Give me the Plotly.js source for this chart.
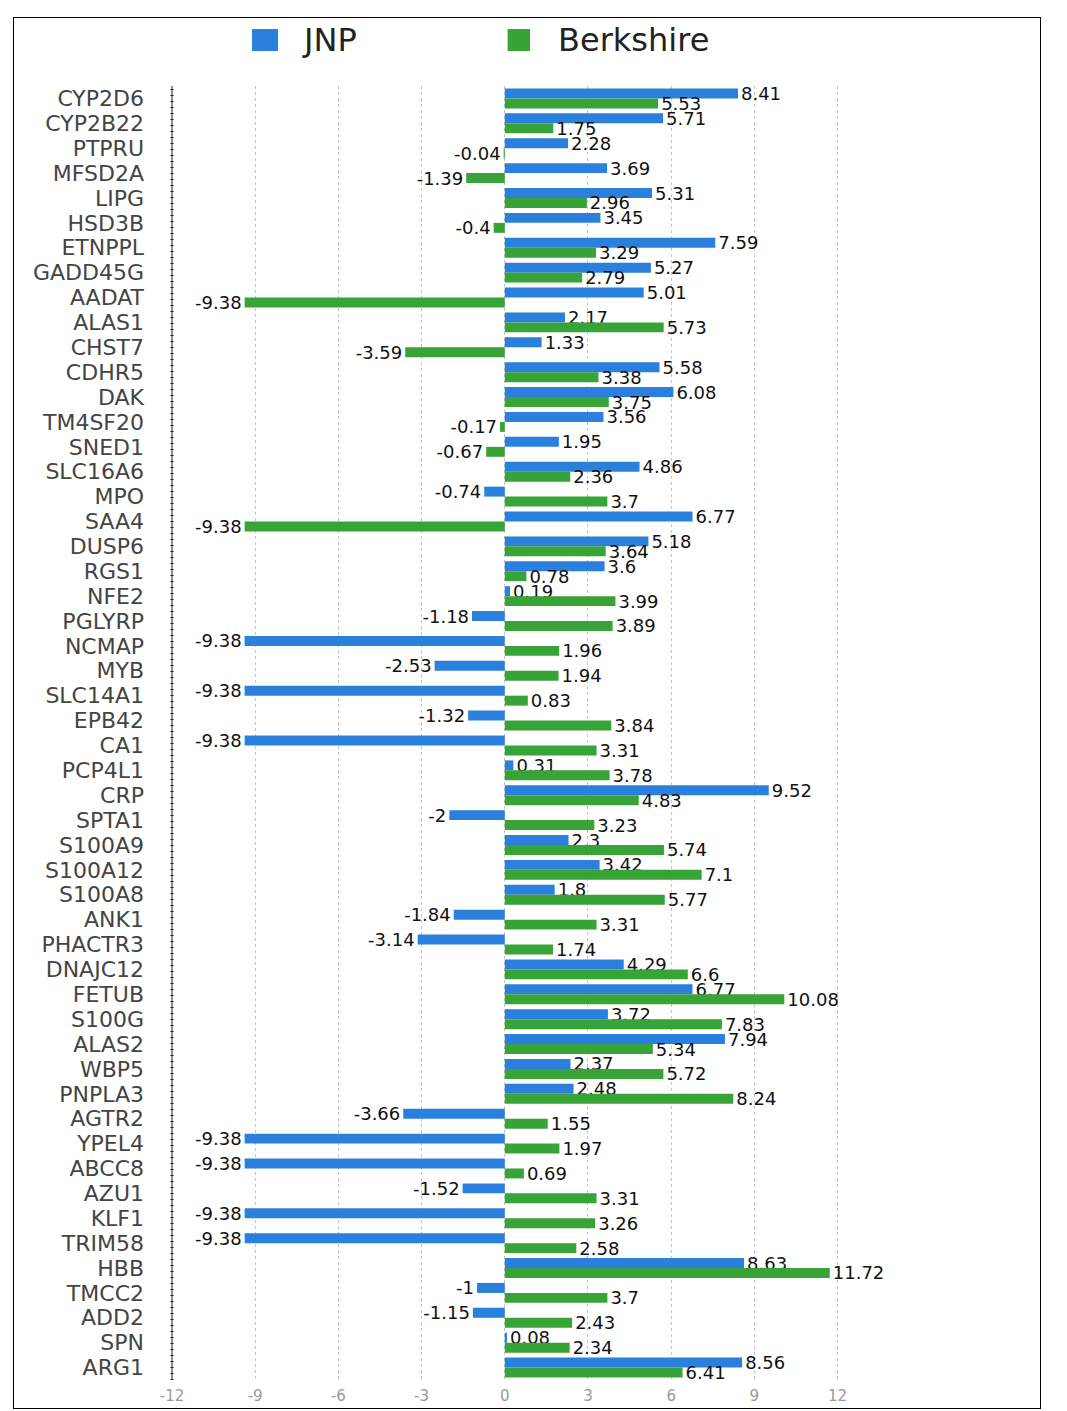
<!DOCTYPE html>
<html>
<head>
<meta charset="utf-8">
<script src="https://cdn.plot.ly/plotly-3.0.1.min.js"></script>
<style>
  html, body { margin: 0; padding: 0; background: #fff; }
  #frame { position: absolute; left: 13px; top: 17px; width: 1028px; height: 1392px;
           border: 1px solid #000; box-sizing: border-box; }
  #chart { position: absolute; left: 0; top: 0; width: 1026px; height: 1390px; }
</style>
</head>
<body>
<div id="frame"><div id="chart"></div></div>
<script>
const categories = ["CYP2D6","CYP2B22","PTPRU","MFSD2A","LIPG","HSD3B","ETNPPL","GADD45G","AADAT","ALAS1",
  "CHST7","CDHR5","DAK","TM4SF20","SNED1","SLC16A6","MPO","SAA4","DUSP6","RGS1",
  "NFE2","PGLYRP","NCMAP","MYB","SLC14A1","EPB42","CA1","PCP4L1","CRP","SPTA1",
  "S100A9","S100A12","S100A8","ANK1","PHACTR3","DNAJC12","FETUB","S100G","ALAS2","WBP5",
  "PNPLA3","AGTR2","YPEL4","ABCC8","AZU1","KLF1","TRIM58","HBB","TMCC2","ADD2",
  "SPN","ARG1"];
const jnp = [8.41,5.71,2.28,3.69,5.31,3.45,7.59,5.27,5.01,2.17,
  1.33,5.58,6.08,3.56,1.95,4.86,-0.74,6.77,5.18,3.6,
  0.19,-1.18,-9.38,-2.53,-9.38,-1.32,-9.38,0.31,9.52,-2,
  2.3,3.42,1.8,-1.84,-3.14,4.29,6.77,3.72,7.94,2.37,
  2.48,-3.66,-9.38,-9.38,-1.52,-9.38,-9.38,8.63,-1,-1.15,
  0.08,8.56];
const berkshire = [5.53,1.75,-0.04,-1.39,2.96,-0.4,3.29,2.79,-9.38,5.73,
  -3.59,3.38,3.75,-0.17,-0.67,2.36,3.7,-9.38,3.64,0.78,
  3.99,3.89,1.96,1.94,0.83,3.84,3.31,3.78,4.83,3.23,
  5.74,7.1,5.77,3.31,1.74,6.6,10.08,7.83,5.34,5.72,
  8.24,1.55,1.97,0.69,3.31,3.26,2.58,11.72,3.7,2.43,
  2.34,6.41];
const seriesNames = ["JNP", "Berkshire"];
const xTickValues = [-12, -9, -6, -3, 0, 3, 6, 9, 12];

const colors = ["#2a80dc", "#38a336"];
const font = "DejaVu Sans, Verdana, sans-serif";

function barTrace(values, i) {
  return {
    type: "bar", orientation: "h",
    y: categories, x: values, name: seriesNames[i],
    marker: { color: colors[i] },
    text: values.map(v => String(v)),
    textposition: "outside",
    textfont: { family: font, size: 18, color: "#111" },
    constraintext: "none",
    cliponaxis: false,
    showlegend: false,
    hoverinfo: "x+y+name"
  };
}

const data = [barTrace(jnp, 0), barTrace(berkshire, 1)];

const layout = {
  width: 1026, height: 1390,
  margin: { l: 158, r: 147, t: 68, b: 28 },
  paper_bgcolor: "#fff", plot_bgcolor: "#fff",
  barmode: "group", bargap: 0.2, bargroupgap: 0,
  showlegend: false,
  font: { family: font },
  xaxis: {
    range: [-12, 14], tickmode: "array",
    tickvals: xTickValues, ticktext: xTickValues.map(v => String(v)),
    showgrid: true, griddash: "dot", gridcolor: "#c4c4c4", gridwidth: 1,
    zeroline: false, showline: false, ticks: "",
    ticklabelstandoff: 5,
    tickfont: { family: font, size: 15, color: "#999" }
  },
  yaxis: {
    type: "category", autorange: "reversed",
    tickmode: "array", tickvals: categories, ticktext: categories,
    showgrid: false, zeroline: false, showline: false, ticks: "",
    ticklabelstandoff: 27,
    tickfont: { family: font, size: 22, color: "#444" }
  },
  shapes: [
    { type: "line", xref: "paper", yref: "paper", x0: 0, x1: 0, y0: 0, y1: 1,
      line: { color: "#222", width: 1 } },
    { type: "line", xref: "paper", yref: "paper", x0: 0, x1: 0, y0: 0, y1: 1,
      line: { color: "#222", width: 3, dash: "1px,5px" } },
    { type: "rect", xref: "paper", yref: "paper", x0: 0.111, x1: 0.147, y0: 1.027, y1: 1.044,
      line: { width: 0 }, fillcolor: colors[0] },
    { type: "rect", xref: "paper", yref: "paper", x0: 0.4655, x1: 0.4965, y0: 1.027, y1: 1.044,
      line: { width: 0 }, fillcolor: colors[1] }
  ],
  annotations: [
    { xref: "paper", yref: "paper", x: 0.1775, y: 1.0355, xanchor: "left", yanchor: "middle",
      text: seriesNames[0], showarrow: false, font: { family: font, size: 32, color: "#222" } },
    { xref: "paper", yref: "paper", x: 0.5326, y: 1.0355, xanchor: "left", yanchor: "middle",
      text: seriesNames[1], showarrow: false, font: { family: font, size: 32, color: "#222" } }
  ]
};

Plotly.newPlot("chart", data, layout, { displayModeBar: false, staticPlot: true });
</script>
</body>
</html>
